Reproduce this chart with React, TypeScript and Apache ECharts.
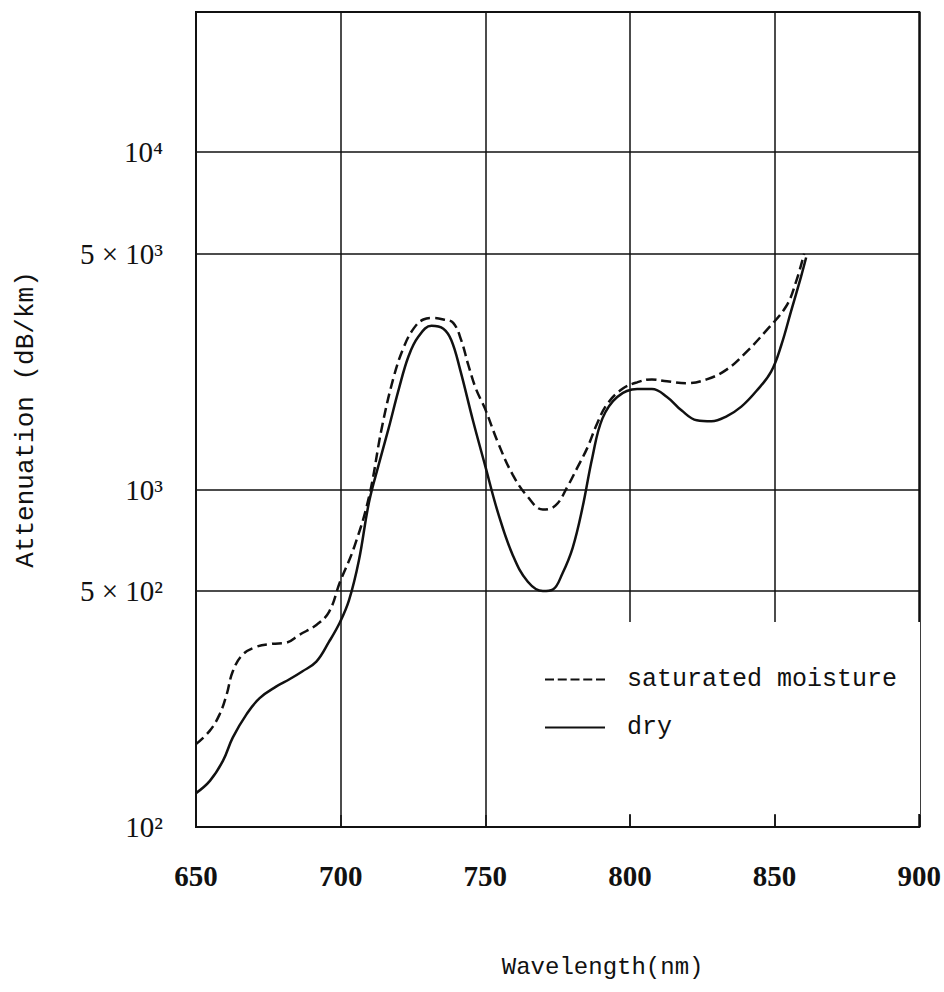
import React, { useEffect, useRef } from "react";
import * as echarts from "echarts";

// Wavelength (nm) samples and attenuation (dB/km)
const dryWavelengths = [650, 654.8, 659.3, 662.7, 667.5, 672, 677.8, 682.3, 686.7, 691.6, 696, 699.8, 702.9, 706.3, 709.8, 713.2, 716.6, 720.1, 723.5, 726.9, 731.4, 735.5, 738.3, 741.3, 745.8, 749.9, 754.4, 759.5, 764.7, 769.9, 773.3, 776.7, 780.2, 783.6, 787, 790.5, 795.6, 802.5, 807.6, 812.8, 817.9, 823.1, 828.2, 833.4, 838.5, 843.7, 848.8, 852.3, 855.7, 859.1, 860.9];
const dryValues = [126, 137, 157, 184, 216, 241, 261, 274, 289, 309, 354, 405, 470, 616, 917, 1189, 1520, 1984, 2487, 2841, 3057, 2997, 2766, 2266, 1593, 1181, 853, 639, 533, 500, 505, 565, 672, 884, 1245, 1625, 1881, 1984, 1984, 1881, 1714, 1604, 1593, 1647, 1760, 1958, 2236, 2676, 3378, 4262, 4870];

const wetWavelengths = [650, 654.8, 658.2, 660.6, 662.7, 666.1, 670.9, 676.4, 681.3, 685.7, 691.6, 696, 699.8, 704.6, 709.8, 714.2, 718.3, 721.8, 725.2, 728.6, 732.1, 735.5, 738.9, 741.7, 744.1, 746.8, 749.9, 754.4, 759.5, 764.7, 769.9, 774.3, 778.4, 781.9, 785.3, 788.7, 792.2, 797.3, 802.5, 807.6, 812.8, 819.6, 826.5, 833.4, 840.2, 847.1, 854, 857.4, 860.2];
const wetValues = [176, 193, 216, 247, 289, 324, 342, 349, 352, 371, 397, 434, 533, 672, 951, 1520, 2149, 2640, 2997, 3190, 3224, 3192, 3118, 2766, 2343, 1984, 1737, 1376, 1105, 951, 872, 897, 1020, 1165, 1331, 1572, 1795, 1984, 2078, 2120, 2092, 2065, 2120, 2266, 2554, 2957, 3492, 4123, 5000];

const seriesNames = ["saturated moisture", "dry"];
const yTickValues = [100, 500, 1000, 5000, 10000];
const yTickLabels = ["10²", "5 × 10²", "10³", "5 × 10³", "10⁴"];

const INK = "#111";
const DASH_ICON =
  "path://M0,0h9v2h-9zM12.75,0h9v2h-9zM25.5,0h9v2h-9zM38.25,0h9v2h-9zM51,0h9v2h-9z";
const SOLID_ICON = "path://M0,0h60v2h-60z";

export default function App() {
  const ref = useRef<HTMLDivElement>(null);
  useEffect(() => {
    if (!ref.current) return;
    const chart = echarts.init(ref.current, null, { renderer: "svg" });
    const wet = wetWavelengths.map((w, i) => [w, wetValues[i]]);
    const dry = dryWavelengths.map((w, i) => [w, dryValues[i]]);
    chart.setOption({
      animation: false,
      backgroundColor: "#fff",
      grid: {
        left: 196,
        right: 20,
        top: 12,
        bottom: 165,
        show: true,
        borderColor: INK,
        borderWidth: 2,
      },
      xAxis: {
        type: "value",
        min: 650,
        max: 900,
        interval: 50,
        name: "Wavelength(nm)",
        nameLocation: "middle",
        nameGap: 128,
        nameTextStyle: {
          fontFamily: "Liberation Mono",
          fontSize: 24,
          color: INK,
          padding: [0, 0, 0, 90],
        },
        axisLine: { show: true, lineStyle: { color: INK, width: 2 } },
        axisTick: { show: true, inside: true, length: 12, lineStyle: { color: INK, width: 1.5 } },
        axisLabel: {
          margin: 34,
          fontFamily: "Liberation Serif",
          fontWeight: "bold",
          fontSize: 29,
          color: INK,
        },
        splitLine: { show: true, lineStyle: { color: INK, width: 1.5 } },
      },
      yAxis: {
        type: "log",
        logBase: 10,
        min: 100,
        max: 26000,
        name: "Attenuation (dB/km)",
        nameLocation: "middle",
        nameGap: 157,
        nameTextStyle: {
          fontFamily: "Liberation Mono",
          fontSize: 26,
          color: INK,
        },
        axisLine: { show: true, lineStyle: { color: INK, width: 2 } },
        axisTick: { show: false, customValues: yTickValues },
        axisLabel: {
          customValues: yTickValues,
          margin: 33,
          fontFamily: "Liberation Serif",
          fontSize: 29,
          color: INK,
          formatter: (v: number) => {
            const i = yTickValues.findIndex((t) => Math.abs(t - v) / t < 1e-6);
            return i >= 0 ? yTickLabels[i] : "";
          },
        },
        splitLine: { show: true, lineStyle: { color: INK, width: 1.5 } },
      },
      legend: {
        data: [
          { name: seriesNames[0], icon: DASH_ICON },
          { name: seriesNames[1], icon: SOLID_ICON },
        ],
        orient: "vertical",
        left: 540,
        top: 662,
        itemWidth: 60,
        itemHeight: 2.5,
        itemGap: 23,
        textStyle: {
          fontFamily: "Liberation Mono",
          fontSize: 25,
          color: INK,
          padding: [0, 0, 0, 17],
        },
      },
      graphic: [
        {
          type: "rect",
          z: 1,
          shape: { x: 522, y: 622, width: 398, height: 192 },
          style: { fill: "#fff" },
          silent: true,
        },
      ],
      series: [
        {
          name: seriesNames[0],
          type: "line",
          data: wet,
          smooth: 0.4,
          symbol: "none",
          z: 3,
          lineStyle: { color: INK, width: 2.5, type: [10, 5] },
          itemStyle: { color: INK },
        },
        {
          name: seriesNames[1],
          type: "line",
          data: dry,
          smooth: 0.4,
          symbol: "none",
          z: 3,
          lineStyle: { color: INK, width: 2.5, type: "solid" },
          itemStyle: { color: INK },
        },
      ],
    });
    return () => chart.dispose();
  }, []);
  return (
    <div
      ref={ref}
      style={{ position: "absolute", left: 0, top: 0, width: 944, height: 992 }}
    />
  );
}
